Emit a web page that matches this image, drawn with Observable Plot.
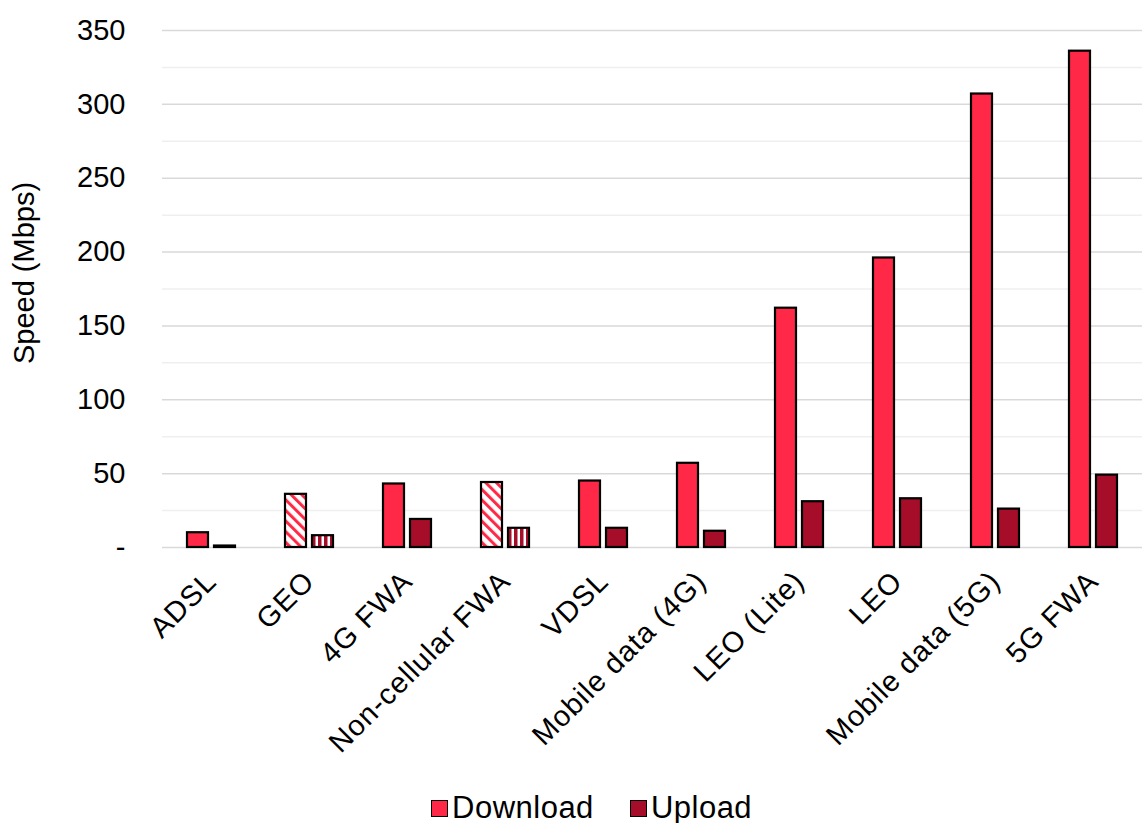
<!DOCTYPE html>
<html>
<head>
<meta charset="utf-8">
<script src="https://cdn.jsdelivr.net/npm/d3@7"></script>
<script src="https://cdn.jsdelivr.net/npm/@observablehq/plot@0.6"></script>
<style>
  body { margin: 0; background: #fff; font-family: "Liberation Sans", Arial, sans-serif; }
  #chart { position: relative; width: 1145px; height: 823px; }
  .legend { position: absolute; left: 431px; top: 791px; display: flex; gap: 36px; font-size: 31px; color: #000; line-height: 34px; letter-spacing: 0.5px; }
  .legend .item { display: flex; align-items: center; }
  .legend .sw { display: inline-block; width: 15px; height: 15px; border: 1.5px solid #000; margin-right: 4px; }
</style>
</head>
<body>
<div id="chart"></div>
<script>
// Median speeds by access technology (Mbps)
const categories = ["ADSL", "GEO", "4G FWA", "Non-cellular FWA", "VDSL", "Mobile data (4G)", "LEO (Lite)", "LEO", "Mobile data (5G)", "5G FWA"];
const downloadMbps = [10, 36, 43, 44, 45, 57, 162, 196, 307, 336];
const uploadMbps = [1, 8, 19, 13, 13, 11, 31, 33, 26, 49];
const seriesNames = ["Download", "Upload"];
const seriesColors = ["#ff2846", "#a50d28"];
// technologies shown with hatched bars
const hatchedCategories = ["GEO", "Non-cellular FWA"];
const majorTicks = [0, 50, 100, 150, 200, 250, 300, 350];
const minorTicks = [25, 75, 125, 175, 225, 275, 325];

const rows = categories.flatMap((c, i) => [
  { category: c, series: "Download", value: downloadMbps[i], hatched: hatchedCategories.includes(c) },
  { category: c, series: "Upload", value: uploadMbps[i], hatched: hatchedCategories.includes(c) }
]);

const font = '"Liberation Sans", Arial, sans-serif';

const chart = Plot.plot({
  width: 1145,
  height: 790,
  marginLeft: 158,
  marginRight: 0,
  marginTop: 30,
  marginBottom: 243,
  style: { fontFamily: font, fontSize: "29px", color: "#000", background: "#fff", overflow: "visible" },
  facet: { data: rows, x: "category" },
  fx: { domain: categories, padding: 0, axis: "bottom", label: null, tickRotate: -45, tickSize: 0, tickPadding: 29 },
  x: { domain: seriesNames, paddingInner: 0.214, paddingOuter: 0.87, axis: null },
  y: { domain: [0, 350], ticks: majorTicks, tickFormat: d => d === 0 ? "-" : d, tickSize: 0, tickPadding: 37, label: null },
  color: { domain: seriesNames, range: seriesColors },
  marks: [
    Plot.ruleY(minorTicks, { stroke: "#efefef", strokeWidth: 1.5 }),
    Plot.ruleY(majorTicks, { stroke: "#d9d9d9", strokeWidth: 1.5 }),
    Plot.barY(rows, { filter: d => !d.hatched, x: "series", y: "value", fill: "series", stroke: "#000", strokeWidth: 2.2 }),
    Plot.barY(rows, { filter: d => d.hatched && d.series === "Download", x: "series", y: "value", fill: "url(#hatch-download)", stroke: "#000", strokeWidth: 2.2 }),
    Plot.barY(rows, { filter: d => d.hatched && d.series === "Upload", x: "series", y: "value", fill: "url(#hatch-upload)", stroke: "#000", strokeWidth: 2.2 })
  ]
});

// stripe patterns for the hatched bars
const svg = d3.select(chart);
const defs = svg.insert("defs", ":first-child");
const pd = defs.append("pattern")
  .attr("id", "hatch-download")
  .attr("patternUnits", "userSpaceOnUse")
  .attr("width", 7.5).attr("height", 7.5)
  .attr("patternTransform", "rotate(-45)");
pd.append("rect").attr("width", 7.5).attr("height", 7.5).attr("fill", "#fff");
pd.append("rect").attr("width", 3).attr("height", 7.5).attr("fill", seriesColors[0]);
const pu = defs.append("pattern")
  .attr("id", "hatch-upload")
  .attr("patternUnits", "userSpaceOnUse")
  .attr("width", 6).attr("height", 6);
pu.append("rect").attr("width", 6).attr("height", 6).attr("fill", "#fff");
pu.append("rect").attr("width", 3.5).attr("height", 6).attr("fill", seriesColors[1]);

// slightly looser spacing for the slanted category labels
svg.selectAll('g[aria-label^="fx-axis"] text').style("letter-spacing", "1px");

// y-axis title
svg.append("text")
  .attr("transform", "translate(24,273) rotate(-90)")
  .attr("text-anchor", "middle")
  .attr("dominant-baseline", "central")
  .attr("font-family", font)
  .attr("font-size", 29)
  .attr("fill", "#000")
  .text("Speed (Mbps)");

const root = document.getElementById("chart");
root.appendChild(chart);

// legend below the chart
const legend = document.createElement("div");
legend.className = "legend";
seriesNames.forEach((name, i) => {
  const item = document.createElement("div");
  item.className = "item";
  const sw = document.createElement("span");
  sw.className = "sw";
  sw.style.background = seriesColors[i];
  item.appendChild(sw);
  item.appendChild(document.createTextNode(name));
  legend.appendChild(item);
});
root.appendChild(legend);
</script>
</body>
</html>
